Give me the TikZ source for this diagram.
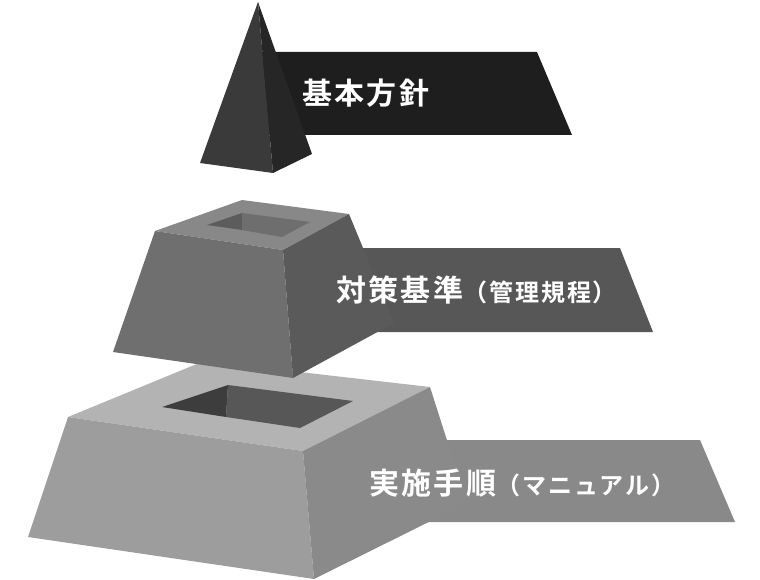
\documentclass[tikz,border=0pt]{standalone}
\usepackage{fontspec}
\newfontfamily\jpfont{Noto Sans CJK JP}[BoldFont={* Bold},LetterSpace=8]
\newcommand{\sublbl}{\fontsize{24}{24}\selectfont}
\definecolor{topL}{HTML}{3A3A3A}
\definecolor{topR}{HTML}{262626}
\definecolor{topB}{HTML}{1E1E1E}
\definecolor{midT}{HTML}{888888}
\definecolor{midL}{HTML}{6F6F6F}
\definecolor{midR}{HTML}{5A5A5A}
\definecolor{midB}{HTML}{575757}
\definecolor{midH}{HTML}{5C5C5C}
\definecolor{midG}{HTML}{6E6E6E}
\definecolor{lowT}{HTML}{B3B3B3}
\definecolor{lowL}{HTML}{9D9D9D}
\definecolor{lowR}{HTML}{8A8A8A}
\definecolor{lowB}{HTML}{898989}
\definecolor{lowH}{HTML}{3D3D3D}
\definecolor{lowG}{HTML}{575757}
\begin{document}
\begin{tikzpicture}
[x=1pt,y=-1pt,lbl/.style={text=white,anchor=west,inner sep=0pt,font=\jpfont\bfseries\fontsize{30}{30}\selectfont}]
\useasboundingbox (0,0) rectangle (760,580);
% lower block
\fill[lowB] (420,440) -- (700,440) -- (735,522) -- (420,522) -- cycle;
\fill[lowT] (68,417) -- (204,361) -- (430,387) -- (303,451) -- cycle;
\fill[lowL] (68,417) -- (303,451) -- (314,579) -- (28,537) -- cycle;
\fill[lowR] (303,451) -- (430,387) -- (467,503) -- (314,579) -- cycle;
\fill[lowH] (162,407) -- (228,385) -- (226,417) -- cycle;
\fill[lowG] (228,385) -- (353,401) -- (300,428) -- (226,417) -- cycle;
% middle block
\fill[midB] (340,248) -- (620,248) -- (653,332) -- (340,332) -- cycle;
\fill[midT] (155,231) -- (242,200) -- (349,214) -- (283,250) -- cycle;
\fill[midL] (155,231) -- (283,250) -- (293,378) -- (113,352) -- cycle;
\fill[midR] (283,250) -- (349,214) -- (394,323) -- (293,378) -- cycle;
\fill[midH] (207,225) -- (242,213) -- (242,230) -- cycle;
\fill[midG] (242,213) -- (310,222) -- (282,237) -- (242,230) -- cycle;
% top pyramid
\fill[topB] (262,52) -- (537,52) -- (572,135) -- (262,135) -- cycle;
\fill[topL] (258,2) -- (200,163) -- (273,173) -- cycle;
\fill[topR] (258,2) -- (273,173) -- (312,154) -- cycle;
% labels
\node[lbl] (t1) at (302,93) {基本方針};
\node[lbl] (t2) at (336,290) {対策基準{\sublbl（管理規程）}};
\node[lbl] (t3) at (369,483) {実施手順{\sublbl（マニュアル）}};
\end{tikzpicture}
\end{document}
